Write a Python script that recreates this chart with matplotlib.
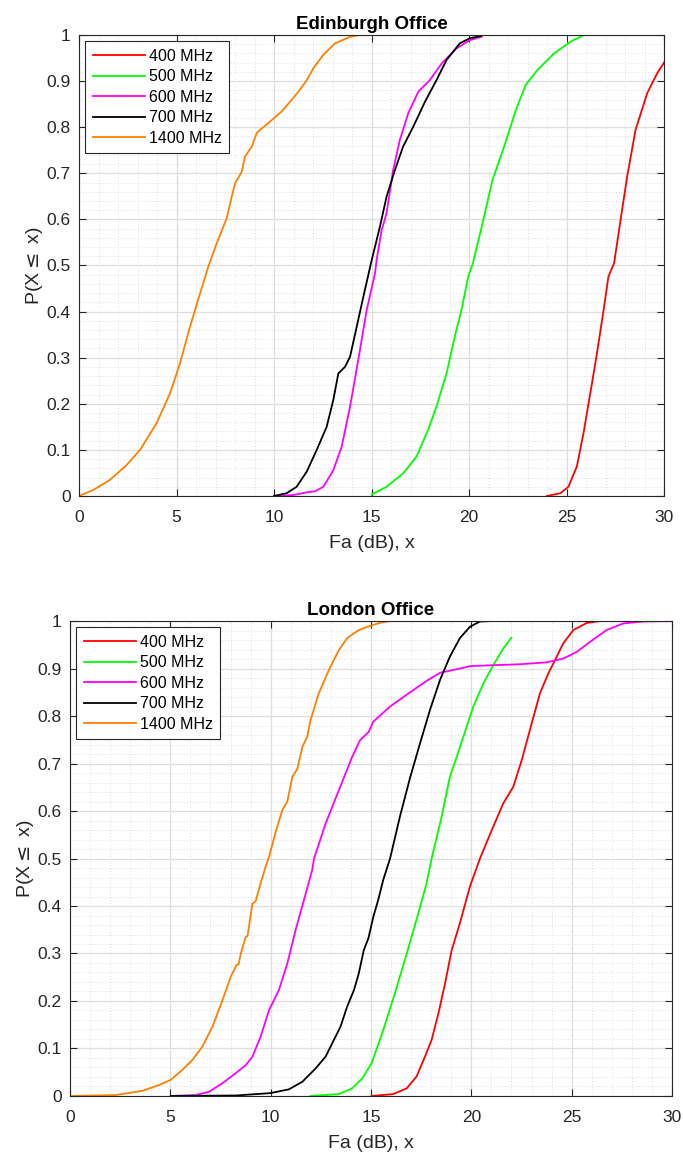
import numpy as np
import matplotlib
matplotlib.use("Agg")
import matplotlib.pyplot as plt
from matplotlib.ticker import MultipleLocator, FuncFormatter

plt.rcParams['font.family'] = ['Liberation Sans', 'DejaVu Sans']

labels = ["400 MHz", "500 MHz", "600 MHz", "700 MHz", "1400 MHz"]
colors = ["#ff0000", "#00ff00", "#ff00ff", "#000000", "#ff8000"]

# Edinburgh office CDFs (Fa in dB, cumulative probability)
edi_400_x = [24.0, 24.69, 25.1, 25.53, 25.87, 26.22, 26.56, 26.9, 27.15, 27.44, 27.77, 28.11, 28.54, 29.14, 29.65, 30.03]
edi_400_p = [0, 0.006, 0.02, 0.064, 0.136, 0.223, 0.309, 0.403, 0.476, 0.505, 0.598, 0.693, 0.794, 0.874, 0.917, 0.942]
edi_500_x = [15.0, 15.77, 16.62, 17.3, 17.9, 18.33, 18.85, 19.27, 19.61, 19.96, 20.2, 20.69, 21.2, 21.8, 22.4, 22.91, 23.51, 24.36, 25.22, 25.9, 26.5]
edi_500_p = [0.003, 0.02, 0.049, 0.085, 0.143, 0.194, 0.266, 0.346, 0.403, 0.476, 0.505, 0.591, 0.685, 0.758, 0.837, 0.892, 0.924, 0.96, 0.986, 1.0, 1.0]
edi_600_x = [10, 11.0, 11.68, 12.1, 12.53, 13.04, 13.47, 13.9, 14.32, 14.75, 15.18, 15.26, 15.52, 15.77, 16.11, 16.45, 16.88, 17.4, 17.99, 18.59, 19.36, 20.04, 20.64]
edi_600_p = [0, 0.002, 0.008, 0.01, 0.02, 0.056, 0.107, 0.194, 0.295, 0.403, 0.483, 0.512, 0.577, 0.613, 0.707, 0.772, 0.83, 0.877, 0.902, 0.938, 0.971, 0.989, 0.996]
edi_700_x = [10, 10.65, 11.16, 11.68, 12.19, 12.7, 13.04, 13.3, 13.64, 13.9, 14.24, 14.58, 15.0, 15.43, 15.77, 16.2, 16.62, 17.14, 17.74, 18.33, 18.85, 19.53, 20.04, 20.64, 20.7]
edi_700_p = [0, 0.006, 0.02, 0.053, 0.1, 0.15, 0.208, 0.266, 0.28, 0.302, 0.367, 0.432, 0.51, 0.584, 0.649, 0.707, 0.758, 0.801, 0.855, 0.902, 0.946, 0.982, 0.993, 0.998, 1.0]
edi_1400_x = [0, 0.735, 1.59, 2.44, 3.13, 3.98, 4.67, 5.18, 5.69, 6.21, 6.65, 7.06, 7.57, 7.83, 8.0, 8.34, 8.51, 8.86, 9.11, 9.28,
              9.79, 10.39, 10.82, 11.25, 11.68, 12.02, 12.53, 13.13, 13.9, 14.41, 15.0]
edi_1400_p = [0, 0.013, 0.035, 0.067, 0.1, 0.158, 0.223, 0.288, 0.367, 0.44, 0.5, 0.548, 0.602, 0.649, 0.678, 0.703, 0.736, 0.758, 0.787, 0.794,
              0.812, 0.834, 0.855, 0.877, 0.902, 0.928, 0.957, 0.982, 0.996, 1.0, 1.0]

# London office CDFs
lon_400_x = [15.03, 16.11, 16.78, 17.27, 17.69, 18.02, 18.36, 18.69, 19.02, 19.43, 19.93, 20.43, 21.09, 21.59, 22.09, 22.51, 22.92,
             23.42, 23.84, 24.09, 24.58, 25.08, 25.75, 26.41, 30]
lon_400_p = [0, 0.004, 0.016, 0.041, 0.083, 0.118, 0.174, 0.237, 0.307, 0.364, 0.441, 0.5, 0.567, 0.616, 0.651, 0.707, 0.771,
             0.848, 0.89, 0.911, 0.953, 0.981, 0.996, 1.0, 1.0]
lon_500_x = [11.99, 13.4, 14.06, 14.56, 15.03, 15.61, 16.19, 16.78, 17.36, 17.77, 18.02, 18.52, 18.93, 19.27, 19.6, 20.1, 20.6, 21.09, 21.59, 22.0]
lon_500_p = [0, 0.004, 0.016, 0.037, 0.069, 0.139, 0.216, 0.3, 0.385, 0.448, 0.5, 0.588, 0.672, 0.714, 0.756, 0.82, 0.869, 0.907, 0.942, 0.965]
lon_600_x = [5.02, 6.27, 6.93, 7.6, 8.26, 8.76, 9.09, 9.5, 9.92, 10.41, 10.83, 11.24, 11.66, 12.07, 12.16, 12.74, 13.4, 14.06, 14.45,
             14.89, 15.11, 15.95, 16.78, 17.77, 18.44, 19.43, 19.93, 21.09, 22.42, 23.75, 24.58, 25.25, 25.91, 26.74, 27.57, 28.57, 30]
lon_600_p = [0, 0.002, 0.009, 0.027, 0.048, 0.065, 0.083, 0.125, 0.181, 0.223, 0.279, 0.349, 0.413, 0.476, 0.5, 0.574, 0.644, 0.714, 0.749,
             0.767, 0.788, 0.82, 0.845, 0.874, 0.891, 0.9, 0.905, 0.907, 0.909, 0.913, 0.921, 0.935, 0.956, 0.981, 0.995, 0.999, 1.0]
lon_700_x = [5.02, 8.26, 9.98, 10.91, 11.58, 12.24, 12.74, 13.15, 13.48, 13.81, 14.15, 14.39, 14.64, 14.87, 15.12, 15.36, 15.61,
             15.95, 16.44, 16.94, 17.44, 17.94, 18.44, 18.93, 19.43, 19.93, 20.43, 21.01]
lon_700_p = [0, 0.001, 0.006, 0.014, 0.03, 0.058, 0.083, 0.118, 0.146, 0.188, 0.223, 0.258, 0.307, 0.332, 0.378, 0.413, 0.455,
             0.5, 0.588, 0.669, 0.742, 0.813, 0.876, 0.925, 0.964, 0.988, 0.999, 1.0]
lon_1400_x = [0, 2.29, 3.62, 4.44, 5.02, 5.6, 6.1, 6.6, 7.1, 7.6, 8.01, 8.3, 8.4, 8.51, 8.76, 8.85, 9.09, 9.25, 9.5, 9.75, 9.92,
              10.25, 10.58, 10.83, 11.08, 11.33, 11.58, 11.82, 11.99, 12.4, 12.9, 13.4, 13.81, 14.39, 14.89, 15.5, 16.0]
lon_1400_p = [0, 0.002, 0.011, 0.023, 0.034, 0.055, 0.076, 0.104, 0.146, 0.202, 0.251, 0.276, 0.277, 0.3, 0.335, 0.337, 0.405, 0.41, 0.448, 0.483, 0.504,
              0.556, 0.602, 0.62, 0.672, 0.689, 0.735, 0.756, 0.792, 0.848, 0.897, 0.939, 0.964, 0.981, 0.989, 0.997, 1.0]

edinburgh = [(edi_400_x, edi_400_p), (edi_500_x, edi_500_p), (edi_600_x, edi_600_p),
             (edi_700_x, edi_700_p), (edi_1400_x, edi_1400_p)]
london = [(lon_400_x, lon_400_p), (lon_500_x, lon_500_p), (lon_600_x, lon_600_p),
          (lon_700_x, lon_700_p), (lon_1400_x, lon_1400_p)]

axis_color = "#262626"


def fmt(v, pos):
    return f"{v:.1f}".rstrip("0").rstrip(".") if v != 0 else "0"


def cdf_panel(ax, curves, title):
    for (x, p), c, lab in zip(curves, colors, labels):
        ax.plot(x, p, color=c, lw=1.3, label=lab)
    ax.set_xlim(0, 30)
    ax.set_ylim(0, 1)
    ax.xaxis.set_major_locator(MultipleLocator(5))
    ax.xaxis.set_minor_locator(MultipleLocator(1))
    ax.yaxis.set_major_locator(MultipleLocator(0.1))
    ax.yaxis.set_minor_locator(MultipleLocator(0.02))
    ax.yaxis.set_major_formatter(FuncFormatter(fmt))
    ax.grid(True, which="major", color="#dedede", lw=0.9)
    ax.grid(True, which="minor", color="#d4d4d4", lw=0.6, ls=(0, (1, 2.5)))
    ax.set_axisbelow(True)
    ax.tick_params(which="both", direction="in", top=True, right=True, colors=axis_color,
                   labelsize=12.5)
    ax.tick_params(axis="x", pad=10)
    ax.tick_params(axis="y", pad=6)
    ax.tick_params(which="minor", length=0)
    ax.tick_params(which="major", length=5)
    for s in ax.spines.values():
        s.set_color(axis_color)
        s.set_linewidth(0.8)
    ax.set_xlabel("Fa (dB), x", fontsize=14, color=axis_color, labelpad=7)
    ax.set_ylabel("P(X$\\leq$ x)", fontsize=14, color=axis_color, labelpad=1)
    ax.set_title(title, fontsize=13.5, fontweight="bold", pad=4)
    leg = ax.legend(loc="upper left", fontsize=11.5, handlelength=3.3, fancybox=False,
                    framealpha=1, edgecolor="#262626", borderpad=0.45, labelspacing=0.35,
                    handletextpad=0.25, borderaxespad=0.4)
    leg.get_frame().set_linewidth(0.8)


fig = plt.figure(figsize=(6.83, 11.55), dpi=100)
ax1 = fig.add_axes([0.1157, 0.5706, 0.8565, 0.3991])
ax2 = fig.add_axes([0.1025, 0.0511, 0.8814, 0.4112])
cdf_panel(ax1, edinburgh, "Edinburgh Office")
cdf_panel(ax2, london, "London Office")

fig.savefig("out.png", dpi=100)
